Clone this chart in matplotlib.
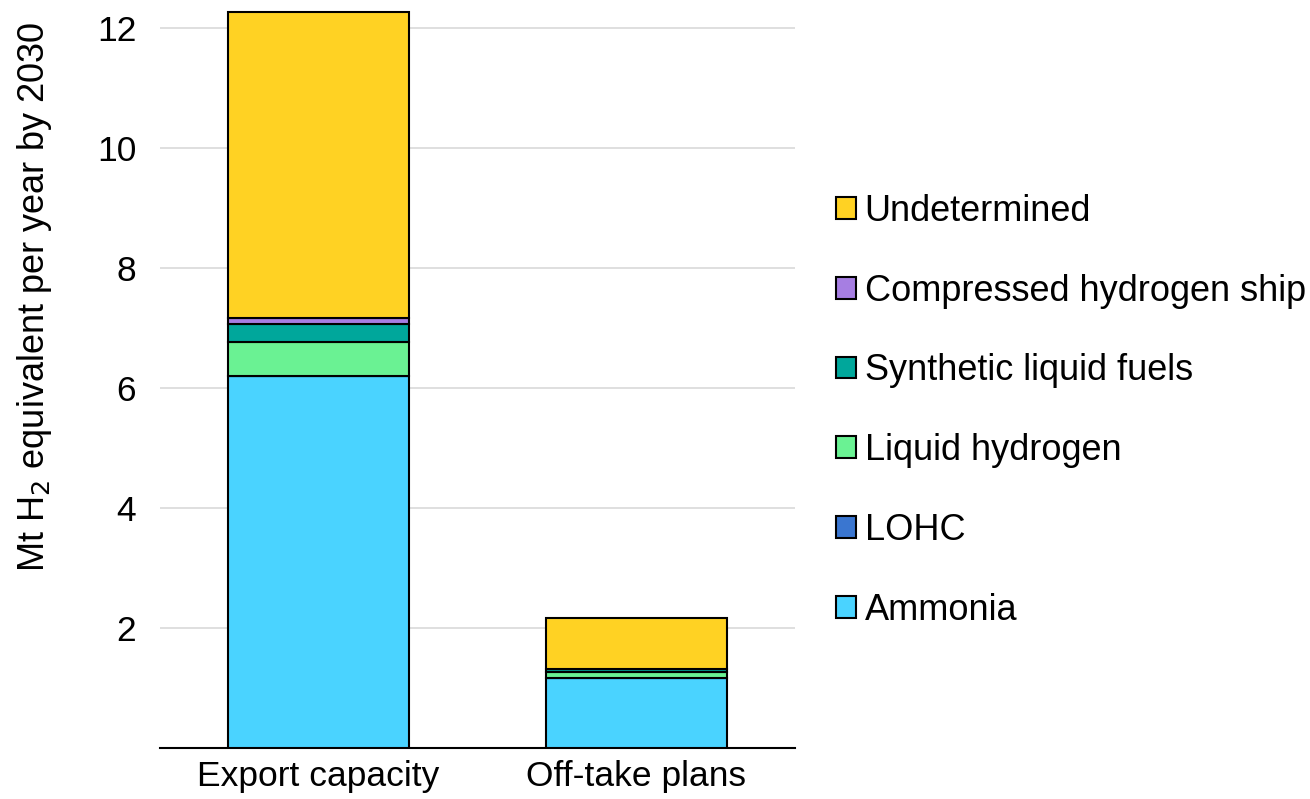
import numpy as np
import matplotlib.pyplot as plt

plt.rcParams['font.family'] = ['Liberation Sans', 'DejaVu Sans']

categories = ['Export capacity', 'Off-take plans']
series_names = ['Ammonia', 'LOHC', 'Liquid hydrogen', 'Synthetic liquid fuels',
                'Compressed hydrogen ship', 'Undetermined']
ammonia = [6.20, 1.17]
lohc = [0.0, 0.0]
liquid_h2 = [0.57, 0.10]
synthetic = [0.30, 0.04]
compressed = [0.10, 0.0]
undetermined = [5.10, 0.86]
yticks = [2, 4, 6, 8, 10, 12]

colors = ['#4AD3FF', '#3A76D0', '#6AF293', '#00A79B', '#A67EE2', '#FFD223']
values = [ammonia, lohc, liquid_h2, synthetic, compressed, undetermined]

fig = plt.figure(figsize=(13.1, 7.99), dpi=100)
ax = fig.add_axes([0.122, 0.064, 0.485, 0.931])

x = np.arange(len(categories))
bottom = np.zeros(len(categories))
handles = []
for name, vals, c in zip(series_names, values, colors):
    b = ax.bar(x, vals, width=0.57, bottom=bottom, color=c, edgecolor='black',
               linewidth=1.5, label=name, zorder=3)
    handles.append(b)
    bottom += np.array(vals)

ax.set_xlim(-0.5, 1.5)
ax.set_ylim(0, 12.4)
ax.set_yticks(yticks)
ax.set_xticks(x)
ax.set_xticklabels(categories)
ax.tick_params(axis='both', length=0, labelsize=25.5, colors='black')
ax.tick_params(axis='y', pad=17)
ax.tick_params(axis='x', pad=9)
ax.grid(axis='y', color='#d9d9d9', linewidth=1.2, zorder=0)
for s in ['left', 'right', 'top']:
    ax.spines[s].set_visible(False)
ax.spines['bottom'].set_linewidth(1.5)
ax.set_ylabel('Mt H$_2$ equivalent per year by 2030', fontsize=26)
ax.yaxis.set_label_coords(-0.166, 0.606)

leg = fig.legend(handles[::-1], series_names[::-1], loc='center left',
                 bbox_to_anchor=(0.638, 0.486), frameon=False, fontsize=26,
                 handlelength=0.55, handleheight=0.55, handletextpad=0.25,
                 labelspacing=1.24, borderpad=0, borderaxespad=0)
for h in leg.legend_handles:
    h.set_linewidth(1.5)

fig.savefig('out.png', dpi=100)
